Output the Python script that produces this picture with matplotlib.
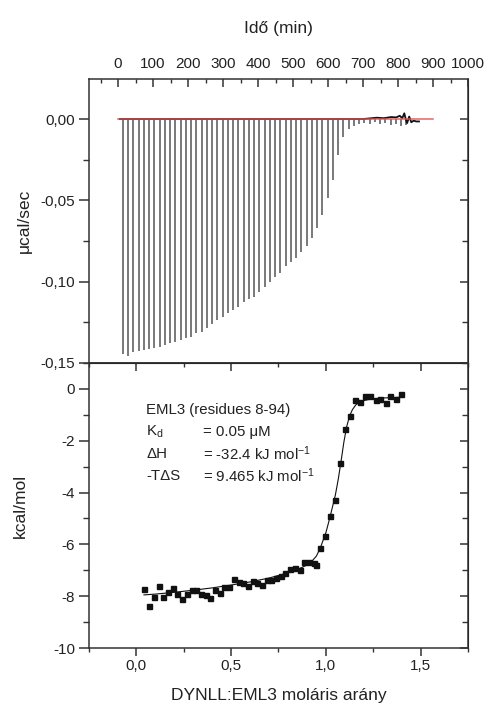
import matplotlib
matplotlib.use("Agg")
import matplotlib.pyplot as plt
from matplotlib.ticker import MultipleLocator

plt.rcParams['font.family'] = ['Liberation Sans', 'DejaVu Sans']
plt.rcParams['axes.unicode_minus'] = False
plt.rcParams['mathtext.fontset'] = 'custom'
plt.rcParams['mathtext.rm'] = 'Liberation Sans'
plt.rcParams['mathtext.it'] = 'Liberation Sans:italic'

# ---------------- data ----------------
# raw thermogram: injection times (min) and peak heights (ucal/sec)
inj_time = [14, 29, 44, 59, 74, 89, 104, 119, 134, 149, 164, 179, 194, 209, 224,
            239, 254, 269, 284, 299, 314, 329, 344, 359, 374, 389, 404, 419, 434,
            449, 464, 479, 494, 509, 524, 539, 554, 569, 584, 599, 614, 629, 644,
            659, 674, 689, 704, 719, 734, 749, 764, 779, 794, 809, 824]
peak_height = [-0.1445, -0.1458, -0.1431, -0.1425, -0.1419, -0.1413, -0.1408, -0.1402,
               -0.1392, -0.1380, -0.1369, -0.1359, -0.1349, -0.1339, -0.1318, -0.1308,
               -0.1287, -0.1263, -0.1236, -0.1216, -0.1195, -0.1175, -0.1158, -0.1128,
               -0.1109, -0.1093, -0.1066, -0.1035, -0.1000, -0.0974, -0.0945, -0.0902,
               -0.0877, -0.0857, -0.0820, -0.0779, -0.0734, -0.0668, -0.0590, -0.0486,
               -0.0375, -0.0220, -0.0110, -0.0060, -0.0040, -0.0030, -0.0025, -0.0030,
               -0.0020, -0.0030, -0.0025, -0.0035, -0.0030, -0.0040, -0.0035]
# baseline trace between injections
trace_time = [5, 700, 740, 760, 780, 795, 805, 812, 818, 822, 826, 832, 838, 845, 852, 860]
trace_val = [0.0, 0.0, 0.0008, 0.0005, 0.0012, 0.001, 0.002, 0.0005, 0.0035, 0.0, -0.0025,
             0.0015, -0.002, -0.001, -0.0015, -0.0015]
baseline_time = [0, 900]
baseline_val = [0.0, 0.0]

# integrated heats
molar_ratio = [0.042, 0.065, 0.092, 0.118, 0.143, 0.166, 0.191, 0.216, 0.240, 0.267,
               0.292, 0.317, 0.341, 0.366, 0.391, 0.415, 0.440, 0.465, 0.489, 0.514,
               0.539, 0.564, 0.589, 0.613, 0.638, 0.663, 0.688, 0.712, 0.737, 0.762,
               0.786, 0.811, 0.836, 0.861, 0.885, 0.910, 0.935, 0.949, 0.970, 0.997,
               1.023, 1.050, 1.076, 1.103, 1.129, 1.156, 1.182, 1.209, 1.232, 1.262,
               1.288, 1.315, 1.341, 1.368, 1.394]
heat = [-7.74, -8.36, -8.05, -7.61, -8.02, -7.83, -7.70, -7.93, -8.12, -7.93,
        -7.76, -7.76, -7.93, -7.96, -8.06, -7.76, -7.87, -7.66, -7.64, -7.35,
        -7.44, -7.51, -7.61, -7.42, -7.48, -7.57, -7.38, -7.38, -7.31, -7.22,
        -7.09, -6.96, -6.93, -6.99, -6.69, -6.69, -6.73, -6.81, -6.15, -5.66,
        -4.90, -4.30, -2.86, -1.54, -1.03, -0.44, -0.50, -0.29, -0.29, -0.44,
        -0.39, -0.54, -0.29, -0.39, -0.19]
fit_x = [0.04, 0.1, 0.2, 0.3, 0.4, 0.5, 0.6, 0.7, 0.8, 0.85, 0.9, 0.93, 0.95, 0.97,
         1.0, 1.02, 1.05, 1.065, 1.08, 1.095, 1.11, 1.125, 1.14, 1.16, 1.19, 1.23,
         1.3, 1.4]
fit_y = [-7.95, -7.92, -7.85, -7.77, -7.68, -7.57, -7.45, -7.3, -7.1, -6.97, -6.8,
         -6.62, -6.45, -6.15, -5.55, -5.0, -4.1, -3.5, -2.8, -2.05, -1.45, -1.05,
         -0.8, -0.6, -0.47, -0.4, -0.35, -0.32]

time_ticks = [0, 100, 200, 300, 400, 500, 600, 700, 800, 900, 1000]
top_yticks = [0.0, -0.05, -0.10, -0.15]
top_ylabels = ["0,00", "-0,05", "-0,10", "-0,15"]
bot_yticks = [0, -2, -4, -6, -8, -10]
bot_ylabels = ["0", "-2", "-4", "-6", "-8", "-10"]
ratio_ticks = [0.0, 0.5, 1.0, 1.5]
ratio_labels = ["0,0", "0,5", "1,0", "1,5"]

annot_title = "EML3 (residues 8-94)"
annot_names = [r"K$_\mathregular{d}$", "\u0394H", "-T\u0394S"]
annot_values = ["= 0.05 \u03bcM", r"= -32.4 kJ mol$^\mathregular{-1}$",
                r"= 9.465 kJ mol$^\mathregular{-1}$"]

# ---------------- figure ----------------
W, H = 485, 711
fig = plt.figure(figsize=(W / 100, H / 100), dpi=100)
txt = '#222222'
spc = '#333333'
tfs = 11

L, R = 89 / W, 468 / W
ax1 = fig.add_axes([L, 1 - 363 / H, R - L, (363 - 79) / H])
ax2 = fig.add_axes([L, 1 - 648 / H, R - L, (648 - 363) / H])

for ax in (ax1, ax2):
    for s in ax.spines.values():
        s.set_color(spc)
        s.set_linewidth(1.1)

# top panel
ax1.vlines(inj_time, 0, peak_height, color='#555555', lw=1.1)
ax1.plot(trace_time, trace_val, color='#111111', lw=1.3)
ax1.plot(baseline_time, baseline_val, color='#e05555', lw=1.1, alpha=0.9)
ax1.set_xlim(-83, 1000)
ax1.set_ylim(-0.15, 0.0246)
ax1.xaxis.tick_top()
ax1.set_xticks(time_ticks)
ax1.set_xticklabels([str(t) for t in time_ticks])
ax1.xaxis.set_minor_locator(MultipleLocator(50))
ax1.tick_params(axis='x', which='both', top=True, bottom=False, labeltop=True,
                labelbottom=False, direction='in', colors=spc, labelcolor=txt,
                labelsize=tfs, pad=6)
ax1.tick_params(axis='x', which='major', length=6, width=1.1)
ax1.tick_params(axis='x', which='minor', length=3, width=1.0)
ax1.set_yticks(top_yticks)
ax1.set_yticklabels(top_ylabels)
ax1.yaxis.set_minor_locator(MultipleLocator(0.025))
ax1.tick_params(axis='y', which='both', direction='out', colors=spc,
                labelcolor=txt, labelsize=tfs, right=False, pad=3)
ax1.tick_params(axis='y', which='major', length=7, width=1.1)
ax1.tick_params(axis='y', which='minor', length=4, width=1.0)
sec1 = ax1.secondary_yaxis('right')
sec1.set_yticks(top_yticks)
sec1.yaxis.set_minor_locator(MultipleLocator(0.025))
sec1.tick_params(axis='y', which='both', direction='in', labelright=False,
                 colors=spc)
sec1.tick_params(axis='y', which='major', length=6, width=1.1)
sec1.tick_params(axis='y', which='minor', length=4, width=1.0)
ax1.xaxis.set_label_position('top')
ax1.set_xlabel("Id\u0151 (min)", fontsize=12.5, color=txt, labelpad=17)
ax1.set_ylabel("\u03bccal/sec", fontsize=12.5, color=txt, labelpad=6)

# bottom panel
ax2.plot(fit_x, fit_y, color='#111111', lw=0.8)
ax2.plot(molar_ratio, heat, linestyle='none', marker='s', markersize=3.6,
         color='#111111')
ax2.set_xlim(-0.25, 1.75)
ax2.set_ylim(-10, 1)
ax2.set_xticks(ratio_ticks)
ax2.set_xticklabels(ratio_labels)
ax2.xaxis.set_minor_locator(MultipleLocator(0.25))
ax2.tick_params(axis='x', which='both', direction='out', colors=spc,
                labelcolor=txt, labelsize=tfs, top=False, pad=2)
ax2.tick_params(axis='x', which='major', length=6, width=1.1)
ax2.tick_params(axis='x', which='minor', length=3, width=1.0)
sec2 = ax2.secondary_xaxis('top')
sec2.set_xticks(ratio_ticks)
sec2.xaxis.set_minor_locator(MultipleLocator(0.25))
sec2.tick_params(axis='x', which='both', direction='in', labeltop=False,
                 colors=spc)
sec2.tick_params(axis='x', which='major', length=6, width=1.1)
sec2.tick_params(axis='x', which='minor', length=3, width=1.0)
ax2.set_yticks(bot_yticks)
ax2.set_yticklabels(bot_ylabels)
ax2.yaxis.set_minor_locator(MultipleLocator(1))
ax2.tick_params(axis='y', which='both', direction='out', colors=spc,
                labelcolor=txt, labelsize=tfs, right=False, pad=3)
ax2.tick_params(axis='y', which='major', length=7, width=1.1)
ax2.tick_params(axis='y', which='minor', length=4, width=1.0)
sec3 = ax2.secondary_yaxis('right')
sec3.set_yticks(bot_yticks)
sec3.yaxis.set_minor_locator(MultipleLocator(1))
sec3.tick_params(axis='y', which='both', direction='in', labelright=False,
                 colors=spc)
sec3.tick_params(axis='y', which='major', length=6, width=1.1)
sec3.tick_params(axis='y', which='minor', length=4, width=1.0)
ax2.set_xlabel("DYNLL:EML3 mol\u00e1ris ar\u00e1ny", fontsize=12.5, color=txt,
               labelpad=11)
ax2.set_ylabel("kcal/mol", fontsize=12.5, color=txt, labelpad=18)

# annotation
afs = 10.8
ax2.text(0.053, -0.80, annot_title, fontsize=afs, color=txt, va='center')
rows_y = [-1.65, -2.50, -3.35]
for name, val, yy in zip(annot_names, annot_values, rows_y):
    ax2.text(0.053, yy, name, fontsize=afs, color=txt, va='center')
    ax2.text(0.35, yy, val, fontsize=afs, color=txt, va='center')

fig.savefig("out.png", dpi=100)
